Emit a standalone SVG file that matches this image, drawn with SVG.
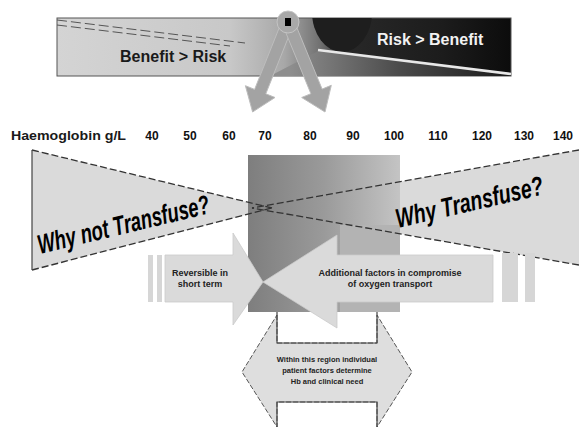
<svg xmlns="http://www.w3.org/2000/svg" width="579" height="427" viewBox="0 0 579 427">
<style>
.lbl{font-family:"Liberation Sans",Arial,sans-serif;font-weight:bold;fill:#1a1a1a}
.axis{font-family:"Liberation Sans",Arial,sans-serif;font-weight:bold;font-size:12px;fill:#111;text-anchor:middle}
.big{font-family:"Liberation Sans",Arial,sans-serif;font-weight:bold;font-style:italic;font-size:27px;fill:#000}
.small{font-family:"Liberation Sans",Arial,sans-serif;font-weight:bold;font-size:9px;fill:#222;text-anchor:middle}
.tiny{font-family:"Liberation Sans",Arial,sans-serif;font-weight:bold;font-size:7.5px;fill:#222;text-anchor:middle}
.tri{fill:#dadada;stroke:none}
.dash{stroke:#333;stroke-width:1.3;stroke-dasharray:7 3;fill:none}
.arrowbox{fill:#dadada;stroke:#cacaca;stroke-width:0.8}
.stripe{fill:#d6d6d6}
.leg{fill:#a3a3a3;stroke:#bdbdbd;stroke-width:1}
</style>
<defs>
<linearGradient id="barG" x1="57" y1="0" x2="511" y2="0" gradientUnits="userSpaceOnUse">
<stop offset="0" stop-color="#d4d4d4"/>
<stop offset="0.38" stop-color="#c8c8c8"/>
<stop offset="0.5" stop-color="#a8a8a8"/>
<stop offset="0.58" stop-color="#707070"/>
<stop offset="0.64" stop-color="#282828"/>
<stop offset="0.85" stop-color="#1c1c1c"/>
<stop offset="1" stop-color="#0c0c0c"/>
</linearGradient>
<linearGradient id="lowG" x1="290" y1="0" x2="511" y2="0" gradientUnits="userSpaceOnUse">
<stop offset="0" stop-color="#8e8e8e"/>
<stop offset="0.5" stop-color="#4a4a4a"/>
<stop offset="1" stop-color="#1a1a1a"/>
</linearGradient>
<linearGradient id="colG" x1="248" y1="0" x2="400" y2="0" gradientUnits="userSpaceOnUse">
<stop offset="0" stop-color="#7e7e7e"/>
<stop offset="0.5" stop-color="#9a9a9a"/>
<stop offset="1" stop-color="#c4c4c4"/>
</linearGradient>
<clipPath id="barClip"><rect x="57" y="18" width="454" height="58"/></clipPath>
</defs>

<g id="risk-bar">
<rect x="57" y="18" width="454" height="58" fill="url(#barG)" stroke="#555" stroke-width="1"/>
<g clip-path="url(#barClip)">
<ellipse cx="342" cy="12" rx="30" ry="40" fill="#1e1e1e"/>
<polygon points="270,76 320,50 511,74 511,76" fill="url(#lowG)"/>
<line x1="318" y1="50" x2="511" y2="74" stroke="#e8e8e8" stroke-width="2.5"/>
</g>
<line x1="57" y1="20" x2="245" y2="43" stroke="#555" stroke-width="1" stroke-dasharray="10 4"/>
<line x1="57" y1="25" x2="230" y2="46" stroke="#555" stroke-width="1" stroke-dasharray="10 4"/>
<text class="lbl" x="120" y="62" font-size="16" fill="#222">Benefit &gt; Risk</text>
<text class="lbl" x="377" y="45" font-size="16" style="fill:#f2f2f2">Risk &gt; Benefit</text>
</g>

<g id="pointer">
<polygon class="leg" points="282.4,19.8 254.6,89.4 245.4,85.7 252.6,112 275.0,97.5 265.8,93.8 293.6,24.2"/>
<polygon class="leg" points="282.4,24.3 310.9,93.7 301.7,97.5 325,112 331.3,85.3 322.1,89.1 293.6,19.7"/>
<circle cx="288" cy="22" r="11" fill="#a8a8a8" stroke="#c4c4c4" stroke-width="1"/>
<rect x="285" y="18" width="6" height="8" fill="#000"/>
</g>

<g id="axis">
<text class="lbl" x="11" y="140" font-size="12" textLength="115" lengthAdjust="spacingAndGlyphs">Haemoglobin g/L</text>
<text class="axis" x="152" y="140">40</text>
<text class="axis" x="190" y="140">50</text>
<text class="axis" x="229" y="140">60</text>
<text class="axis" x="265" y="140">70</text>
<text class="axis" x="310" y="140">80</text>
<text class="axis" x="353" y="140">90</text>
<text class="axis" x="394" y="140">100</text>
<text class="axis" x="438" y="140">110</text>
<text class="axis" x="482" y="140">120</text>
<text class="axis" x="524" y="140">130</text>
<text class="axis" x="563" y="140">140</text>
</g>

<g id="why-not-transfuse">
<polygon class="tri" points="32,150 272,208 32,270"/>
</g>
<g id="why-transfuse">
<polygon class="tri" points="579,150 252,208 579,265"/>
</g>

<g id="zone">
<rect x="248" y="155" width="152" height="157" fill="url(#colG)"/>
<rect x="340" y="225" width="60" height="87" fill="#b3b3b3"/>
</g>

<g id="triangle-edges">
<line class="dash" x1="32" y1="150" x2="272" y2="208"/>
<line class="dash" x1="32" y1="270" x2="272" y2="208"/>
<line x1="32" y1="150" x2="32" y2="270" stroke="#444" stroke-width="1.2"/>
<line class="dash" x1="579" y1="150" x2="252" y2="208"/>
<line class="dash" x1="579" y1="265" x2="252" y2="208"/>
<text class="big" transform="translate(40,254) rotate(-13.5) scale(0.68,1)">Why not Transfuse?</text>
<text class="big" font-size="25" transform="translate(398,228) rotate(-13) scale(0.72,1)">Why Transfuse?</text>
</g>

<g id="reversible">
<rect class="stripe" x="148" y="255" width="5" height="47"/>
<rect class="stripe" x="157" y="255" width="5" height="47"/>
<polygon class="arrowbox" points="165,255 233,255 233,233 263,282 233,325 233,302 165,302"/>
<text class="small" x="200" y="276">Reversible in</text>
<text class="small" x="200" y="287">short term</text>
</g>

<g id="additional">
<rect class="stripe" x="502" y="253" width="16" height="49"/>
<rect class="stripe" x="525" y="253" width="10" height="49"/>
<polygon class="arrowbox" points="493,255 337,255 337,235 263,282 337,328 337,302 493,302"/>
<text class="small" x="390" y="276">Additional factors in compromise</text>
<text class="small" x="390" y="287">of oxygen transport</text>
</g>

<g id="individual">
<polygon points="277,315 277,343 377,343 377,315 412,372 377,427 377,402 277,402 277,427 242,372" fill="#dedede" stroke="#555" stroke-width="1" stroke-dasharray="5 2"/>
<polyline points="277,312 277,343 377,343 377,312" fill="none" stroke="#444" stroke-width="1.2"/>
<polyline points="277,427 277,402 377,402 377,427" fill="none" stroke="#444" stroke-width="1.2"/>
<text class="tiny" x="327" y="362">Within this region individual</text>
<text class="tiny" x="327" y="373">patient factors determine</text>
<text class="tiny" x="327" y="384">Hb and clinical need</text>
</g>
</svg>
